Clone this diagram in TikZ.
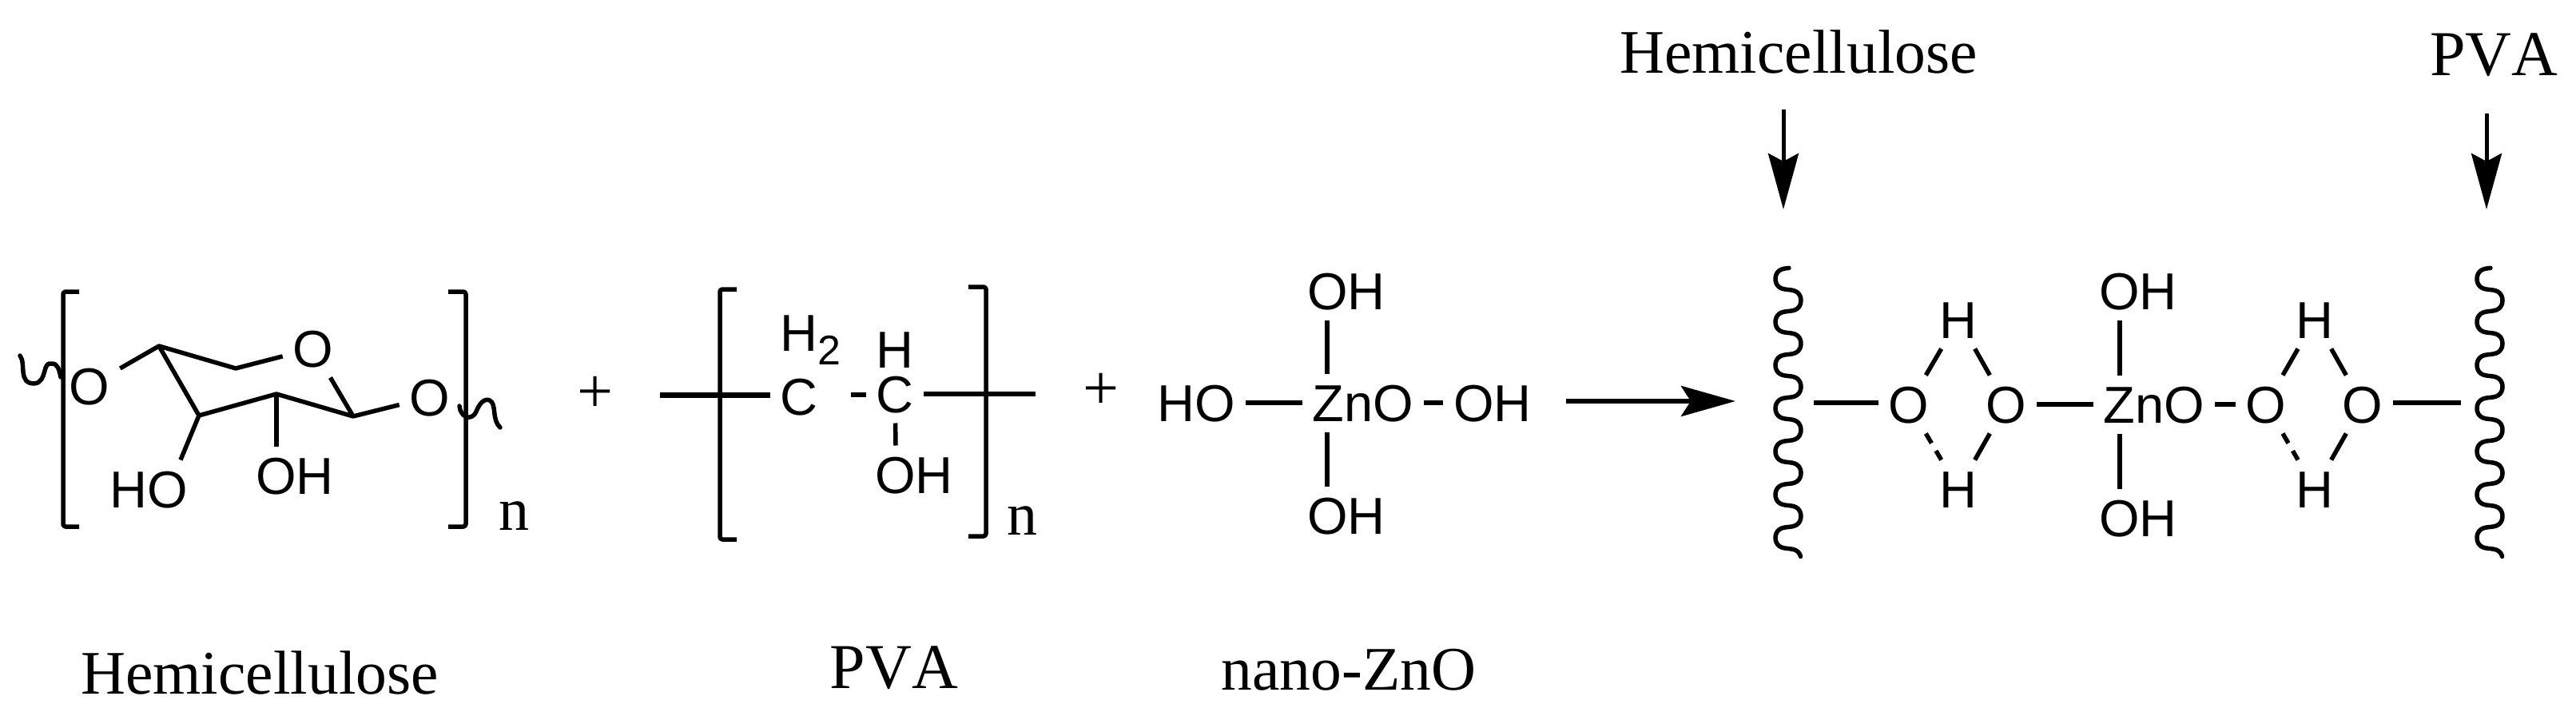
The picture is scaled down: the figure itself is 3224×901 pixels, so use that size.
\documentclass[tikz,border=0pt]{standalone}
\usepackage{fontspec}
\setmainfont{Liberation Sans}
\newfontfamily\lblfont{Liberation Serif}
\newfontfamily\lblnokern[Kerning=Off]{Liberation Serif}
\usetikzlibrary{arrows.meta}
\tikzset{
  atom/.style={inner sep=0pt,outer sep=13pt,text height=47pt,text depth=0pt,font=\fontsize{65}{70}\selectfont},
  bond/.style={line width=5.5pt,line cap=butt},
  hbond/.style={bond,dash pattern=on 14pt off 11pt},
  brack/.style={line width=5.5pt,line join=round,rounded corners=3pt},
  wavy/.style={line width=5.5pt,line cap=round,line join=round},
  lbl/.style={inner sep=0pt,anchor=base,font=\lblfont\fontsize{77.5}{84}\selectfont},
  lblpva/.style={inner sep=0pt,anchor=base,font=\lblnokern\fontsize{80}{84}\selectfont},
  plusmark/.style={inner sep=0pt,font=\lblfont\fontsize{80}{84}\selectfont},
  rep/.style={inner sep=0pt,anchor=base,font=\lblfont\fontsize{76}{80}\selectfont},
  rxn/.style={line width=6pt,-{Stealth[length=68pt,width=38pt,inset=12pt]}},
  down/.style={line width=5pt,-{Stealth[length=70pt,width=38pt,inset=10pt]}}
}
\begin{document}
\begin{tikzpicture}[x=1pt,y=-1pt]
\useasboundingbox[fill=white] (0,0) rectangle (3224,901);
% hemicellulose ring
\coordinate (ra) at (199,433);
\coordinate (rb) at (295,461);
\coordinate (rc) at (442,521);
\coordinate (rd) at (346,493);
\coordinate (re) at (249,520);
\node[atom] (o1) at (112,483) {O};
\node[atom] (o2) at (392,436) {O};
\node[atom] (o3) at (538,497) {O};
\node[atom] (ho1) at (186,612) {HO};
\node[atom] (oh1) at (369,595) {OH};
\draw[bond,line join=round] (o1) -- (ra) -- (rb) -- (o2);
\draw[bond,line join=round] (o2) -- (rc) -- (rd) -- (re) -- (ra);
\draw[bond] (rc) -- (o3);
\draw[bond] (re) -- ([xshift=40pt]ho1.north);
\draw[bond] (rd) -- ([xshift=-23pt]oh1.north);
\draw[brack] (99,365) -- (79,365) -- (79,659) -- (99,659);
\draw[brack] (561,365) -- (583,365) -- (583,659) -- (561,659);
\draw[wavy] (25,445) .. controls (33,455) and (22,480) .. (43,480) .. controls (60,478) and (52,452) .. (65,455) .. controls (72,455) and (74,462) .. (76,472);
\draw[wavy] (575,508) .. controls (576,522) and (590,528) .. (596,515) .. controls (600,505) and (606,498) .. (613,501) .. controls (622,506) and (615,525) .. (626,535);
\node[rep] (n1) at (643,663) {n};
% plus signs
\node[plusmark] (p1) at (745,494) {+};
\node[plusmark] (p2) at (1378,490) {+};
% PVA
\node[atom] (c1) at (1000,496) {C};
\node[inner sep=0pt,anchor=base west,font=\fontsize{65}{70}\selectfont] (h2) at (976,439) {H\raisebox{-17pt}{\fontsize{52}{54}\selectfont 2}};
\node[atom] (c2) at (1120,493) {C};
\node[atom] (hc) at (1120,437) {H};
\node[atom] (ohp) at (1144,594) {OH};
\coordinate (pl) at (826,494);
\coordinate (pr) at (1296,493);
\coordinate (pd) at (1065,494);
\draw[line width=7pt] (pl) -- (pl -| c1.west);
\draw[bond] (pd) -- (pd -| c2.west);
\draw[bond] (c2.east) -- (pr);
\draw[bond] (c2) -- ([xshift=-23pt]ohp.north);
\draw[brack] (922,362) -- (901,362) -- (901,675) -- (922,675);
\draw[brack] (1212,359) -- (1234,359) -- (1234,671) -- (1212,671);
\node[rep] (n2) at (1279,669) {n};
% ZnO
\node[atom] (zn1) at (1706,504) {ZnO};
\node[atom] (ho2) at (1497,504) {HO};
\node[atom] (oh2) at (1868,504) {OH};
\node[atom] (oh3) at (1685,364) {OH};
\node[atom] (oh4) at (1685,645) {OH};
\draw[bond] (ho2) -- (zn1);
\draw[bond] (zn1) -- (oh2);
\draw[bond] ([xshift=-45pt]zn1.north) -- ([xshift=-24pt]oh3.south);
\draw[bond] ([xshift=-45pt]zn1.south) -- ([xshift=-24pt]oh4.north);
% reaction arrow
\coordinate (ra1) at (1960,502);
\coordinate (ra2) at (2172,502);
\draw[rxn] (ra1) -- (ra2);
% product
\node[atom] (po1) at (2389,506) {O};
\node[atom] (po2) at (2511,506) {O};
\node[atom] (zn2) at (2696,506) {ZnO};
\node[atom] (po3) at (2836,506) {O};
\node[atom] (po4) at (2957,506) {O};
\node[atom] (ht1) at (2451,400) {H};
\node[atom] (hb1) at (2451,612) {H};
\node[atom] (ht2) at (2897,400) {H};
\node[atom] (hb2) at (2897,612) {H};
\node[atom] (oh5) at (2676,364) {OH};
\node[atom] (oh6) at (2676,648) {OH};
\coordinate (wl) at (2270,504);
\coordinate (wr) at (3080,504);
\draw[bond] (wl) -- (po1.west |- wl);
\draw[bond] (po2) -- (zn2);
\draw[bond] (zn2) -- (po3);
\draw[bond] (po4.east |- wr) -- (wr);
\draw[bond] (po1) -- (ht1);
\draw[bond] (po2) -- (ht1);
\draw[hbond] (po1) -- (hb1);
\draw[bond] (po2) -- (hb1);
\draw[bond] (po3) -- (ht2);
\draw[bond] (po4) -- (ht2);
\draw[hbond] (po3) -- (hb2);
\draw[bond] (po4) -- (hb2);
\draw[bond] ([xshift=-43pt]zn2.north) -- ([xshift=-23pt]oh5.south);
\draw[bond] ([xshift=-43pt]zn2.south) -- ([xshift=-23pt]oh6.north);
\draw[wavy] plot[domain=335:698,samples=220,smooth] ({2238+16*sin(6.6667*(\x-362.5))},{\x-3.5*sin(13.3333*(\x-362.5))});
\draw[wavy] plot[domain=335:698,samples=220,smooth] ({3116+16*sin(6.6667*(\x-362.5))},{\x-3.5*sin(13.3333*(\x-362.5))});
% top labels and arrows
\node[lbl] (tl1) at (2251,92) {Hemicellulose};
\node[lblpva] (tl2) at (3121,95) {PVA};
\coordinate (ta1) at (2232,137);
\coordinate (tb1) at (2232,262);
\coordinate (ta2) at (3112,142);
\coordinate (tb2) at (3112,262);
\draw[down] (ta1) -- (tb1);
\draw[down] (ta2) -- (tb2);
% bottom labels
\node[lbl] (bl1) at (325,868) {Hemicellulose};
\node[lblpva] (bl2) at (1119,861) {PVA};
\node[lbl] (bl3) at (1688,863) {nano-ZnO};
\end{tikzpicture}
\end{document}
